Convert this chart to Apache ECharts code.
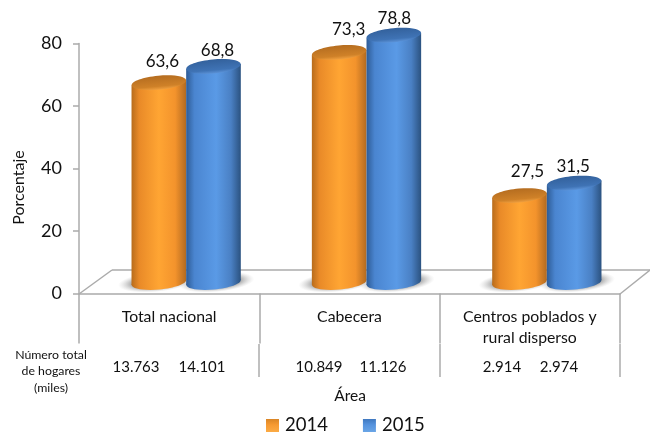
<!DOCTYPE html>
<html><head><meta charset="utf-8">
<style>html,body{margin:0;padding:0;background:#fff}#c{width:650px;height:433px}</style>
<script src="https://cdn.jsdelivr.net/npm/echarts@6/dist/echarts.min.js"></script>
</head><body><div id="c"></div>
<script>
const categories = ['Total nacional', 'Cabecera', 'Centros poblados y\nrural disperso'];
const years = ['2014', '2015'];
const values2014 = [63.6, 73.3, 27.5];
const values2015 = [68.8, 78.8, 31.5];
const hogares2014 = ['13.763', '10.849', '2.914'];
const hogares2015 = ['14.101', '11.126', '2.974'];

const FONT = 'Lato';
const TEXT = '#111';
const LINE = '#ababab';
const TILT = 0.09, RY = 7;

const orangeBody = [[0,'#b86c1c'],[0.14,'#e98a28'],[0.5,'#ffa533'],[0.8,'#f3932c'],[1,'#b26a20']];
const blueBody = [[0,'#2e5c96'],[0.15,'#4a85d0'],[0.55,'#5a9ae6'],[0.82,'#4a80c4'],[1,'#2b5280']];
const orangeTop = [[0,'#b56d20'],[0.75,'#cf8128'],[1,'#f0a040']];
const blueTop = [[0,'#33619c'],[0.75,'#3f73b5'],[1,'#5c93d8']];
const orangeKey = [[0,'#d98526'],[0.45,'#f69a32'],[1,'#fbab45']];
const blueKey = [[0,'#3f78bf'],[0.45,'#5693de'],[1,'#6aa5e6']];
const grad = (stops, v) => ({type:'linear',x:0,y:0,x2:v?0:1,y2:v?1:0,
  colorStops:stops.map(s=>({offset:s[0],color:s[1]}))});

function barPos(api, seriesIdx){
  const c = api.coord([api.value(0), api.value(1)]);
  const base = api.coord([api.value(0), 0]);
  const band = api.size([1,0])[0];
  const w = band*0.303;
  return {cx: c[0]+(seriesIdx===0?-0.5:0.5)*w, top:c[1], bot:base[1]+1, w};
}
function cylinder(seriesIdx, body, top, nudges){
  return function(params, api){
    const p = barPos(api, seriesIdx);
    const dy = p.w/2*Math.sin(TILT);
    const L = p.cx-p.w/2, R = p.cx+p.w/2;
    const n = nudges[params.dataIndex];
    return {type:'group', children:[
      {type:'ellipse', x:p.cx, y:p.bot, rotation:TILT, shape:{cx:0,cy:0,rx:p.w/2,ry:RY},
        style:{fill:grad(body,false)}},
      {type:'polygon', shape:{points:[[L,p.top+dy],[R,p.top-dy],[R,p.bot-dy],[L,p.bot+dy]]},
        style:{fill:grad(body,false)}},
      {type:'ellipse', x:p.cx, y:p.top, rotation:TILT, shape:{cx:0,cy:0,rx:p.w/2,ry:RY},
        style:{fill:grad(top,true)}},
      {type:'text', x:p.cx+n[0], y:p.top+n[1], style:{
        text:String(api.value(1).toFixed(1)).replace('.',','),
        font:'17px '+FONT, fill:TEXT, align:'center', verticalAlign:'middle'}}
    ]};
  };
}
function shadow(seriesIdx){
  return function(params, api){
    const p = barPos(api, seriesIdx);
    return {type:'circle', x:p.cx+(seriesIdx===0?-3:3), y:p.bot-0.5, rotation:TILT, silent:true,
      scaleX:3.8, scaleY:1,
      shape:{cx:0,cy:0,r:10},
      style:{fill:{type:'radial',x:0.5,y:0.5,r:0.5,colorStops:[
        {offset:0,color:'rgba(95,95,95,0.85)'},{offset:0.6,color:'rgba(120,120,120,0.7)'},
        {offset:1,color:'rgba(190,190,190,0)'}]}}};
  };
}
const toData = arr => arr.map((v,i)=>[i,v]);

const bars = [
  {name:years[0], vals:values2014, body:orangeBody, top:orangeTop, key:orangeKey,
    nudge:[[3.5,-21],[9.5,-23],[8,-24]]},
  {name:years[1], vals:values2015, body:blueBody, top:blueTop, key:blueKey,
    nudge:[[4,-16],[0.5,-17],[-1,-17]]}
];

const series = [];
bars.forEach((b,i)=>series.push({type:'custom',name:'sombra'+i,xAxisIndex:1,yAxisIndex:1,z:2,silent:true,
  renderItem:shadow(i),data:toData(b.vals),encode:{x:0,y:1}}));
bars.forEach((b,i)=>series.push({type:'custom',name:b.name,xAxisIndex:1,yAxisIndex:1,z:3+i,
  itemStyle:{color:grad(b.key,true)},renderItem:cylinder(i,b.body,b.top,b.nudge),data:toData(b.vals),encode:{x:0,y:1}}));

const lineEl = (x1,y1,x2,y2)=>({type:'line',z:1,shape:{x1,y1,x2,y2},style:{stroke:LINE,lineWidth:1.5}});
const rowX = [[136,202],[319,383],[502,559]];
const graphicEls = [
  lineEl(79,294,112,270), lineEl(112,270,650,270), lineEl(620,294,650,270),
  lineEl(259,344,259,377), lineEl(440,344,440,377), lineEl(620,344,620,377)
];
rowX.forEach((xs,i)=>{
  [hogares2014[i],hogares2015[i]].forEach((t,j)=>graphicEls.push({type:'text',x:xs[j],y:367.5,z:5,
    style:{text:t,font:'15px '+FONT,fill:TEXT,align:'center',verticalAlign:'middle'}}));
});
['Número total','de hogares','(miles)'].forEach((t,i)=>graphicEls.push({type:'text',x:51,y:355+i*16.5,z:5,
  style:{text:t,font:'12.3px '+FONT,fill:TEXT,align:'center',verticalAlign:'middle'}}));
graphicEls.push({type:'text',x:350,y:396,z:5,
  style:{text:'Área',font:'15.5px '+FONT,fill:TEXT,align:'center',verticalAlign:'middle'}});
graphicEls.push({type:'text',x:19,y:187.5,z:5,rotation:Math.PI/2,
  style:{text:'Porcentaje',font:'16px '+FONT,fill:TEXT,align:'center',verticalAlign:'middle'}});

const chart = echarts.init(document.getElementById('c'),null,{renderer:'canvas'});
chart.setOption({
  animation:false,
  backgroundColor:'#fff',
  textStyle:{fontFamily:FONT},
  grid:[
    {left:79,width:541,top:43.5,height:250,containLabel:false,outerBoundsMode:'none'},
    {left:96,width:541,top:31.5,height:250,containLabel:false,outerBoundsMode:'none'}
  ],
  xAxis:[
    {type:'category',gridIndex:0,data:categories,
      axisLine:{show:true,lineStyle:{color:LINE,width:1.5}},
      axisTick:{show:true,length:50,lineStyle:{color:LINE,width:1.5}},
      axisLabel:{color:TEXT,fontSize:15.8,fontFamily:FONT,margin:13,lineHeight:21,verticalAlign:'top',interval:0},
      splitLine:{show:false}},
    {type:'category',gridIndex:1,data:categories,show:false}
  ],
  yAxis:[
    {type:'value',gridIndex:0,min:0,max:80,interval:20,
      axisLine:{show:true,lineStyle:{color:LINE,width:1.5}},
      axisTick:{show:true,length:6,lineStyle:{color:LINE,width:1.5}},
      axisLabel:{color:TEXT,fontSize:18,fontFamily:FONT,margin:17},
      splitLine:{show:false}},
    {type:'value',gridIndex:1,min:0,max:80,interval:20,show:false,splitLine:{show:false}}
  ],
  legend:{data:years,left:266,top:416,padding:0,itemWidth:13,itemHeight:13,itemGap:35,icon:'rect',
    textStyle:{color:TEXT,fontSize:18.5,fontFamily:FONT,padding:[0,0,0,1]}},
  graphic:{elements:graphicEls},
  series
});
</script></body></html>
